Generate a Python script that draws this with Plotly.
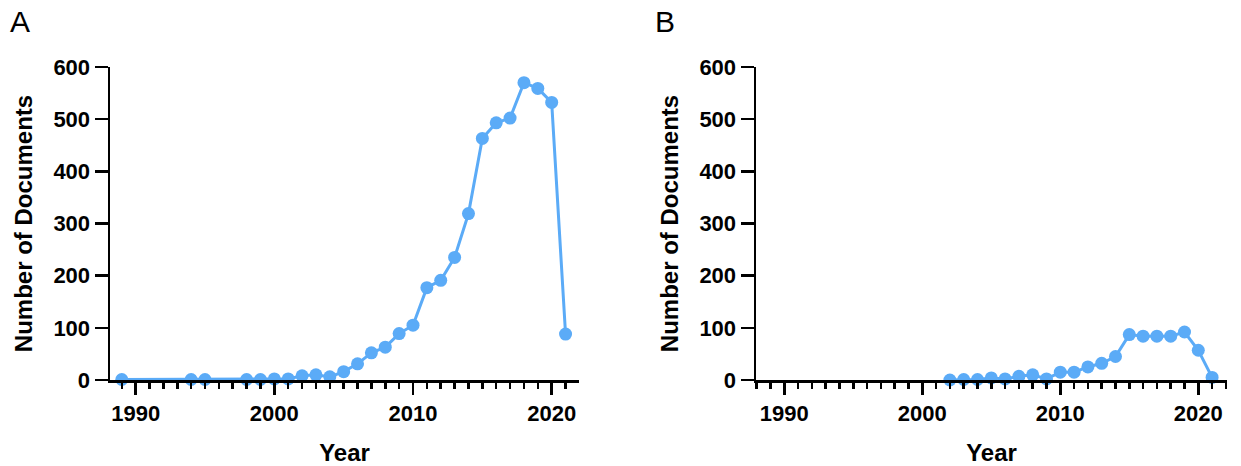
import plotly.graph_objects as go

years_a = [1989, 1994, 1995, 1998, 1999, 2000, 2001, 2002, 2003, 2004, 2005, 2006,
           2007, 2008, 2009, 2010, 2011, 2012, 2013, 2014, 2015, 2016, 2017, 2018,
           2019, 2020, 2021]
docs_a = [1, 1, 1, 1, 1, 2, 2, 8, 10, 6, 16, 31, 52, 63, 89, 105, 177, 191, 235,
          319, 463, 493, 502, 570, 559, 532, 88]

years_b = [2002, 2003, 2004, 2005, 2006, 2007, 2008, 2009, 2010, 2011, 2012, 2013,
           2014, 2015, 2016, 2017, 2018, 2019, 2020, 2021]
docs_b = [0, 1, 1, 4, 2, 7, 10, 2, 15, 15, 25, 32, 45, 87, 84, 84, 84, 92, 57, 5]

x_ticks = [1990, 2000, 2010, 2020]
y_ticks = [0, 100, 200, 300, 400, 500, 600]
panel_labels = ["A", "B"]
x_title = "Year"
y_title = "Number of Documents"

W, H = 1241, 466
color = "#5BABF7"
font_family = "Liberation Sans, Arial, sans-serif"


def px(x):
    return x / W


def py(y):
    return 1 - y / H


fig = go.Figure()
fig.add_trace(go.Scatter(x=years_a, y=docs_a, mode="lines+markers",
                         line=dict(color=color, width=3),
                         marker=dict(color=color, size=13),
                         cliponaxis=False, xaxis="x", yaxis="y", showlegend=False))
fig.add_trace(go.Scatter(x=years_b, y=docs_b, mode="lines+markers",
                         line=dict(color=color, width=3),
                         marker=dict(color=color, size=13),
                         cliponaxis=False, xaxis="x2", yaxis="y2", showlegend=False))


def xaxis(domain, rng, anchor):
    return dict(domain=domain, range=rng, anchor=anchor, automargin=False,
                tickvals=x_ticks, ticktext=[str(v) for v in x_ticks],
                ticks="outside", ticklen=12, tickwidth=2.5, tickcolor="black",
                showline=True, linewidth=2.5, linecolor="black",
                showgrid=False, zeroline=False,
                minor=dict(dtick=1, tick0=1988, ticks="outside", ticklen=6,
                           tickwidth=2.5, tickcolor="black", showgrid=False),
                tickfont=dict(family=font_family, size=22, color="black", weight="bold"),
                title=dict(text=x_title, standoff=20,
                           font=dict(family=font_family, size=24, color="black", weight="bold")),
                fixedrange=True)


def yaxis(domain, anchor):
    return dict(domain=domain, range=[0, 600], anchor=anchor, automargin=False,
                tickvals=y_ticks, ticktext=[str(v) for v in y_ticks],
                ticks="outside", ticklen=13, tickwidth=2.5, tickcolor="black",
                showline=True, linewidth=2.5, linecolor="black",
                showgrid=False, zeroline=False,
                tickfont=dict(family=font_family, size=22, color="black", weight="bold"),
                title=dict(text=y_title, standoff=14,
                           font=dict(family=font_family, size=24, color="black", weight="bold")),
                fixedrange=True)


fig.update_layout(
    width=W, height=H,
    margin=dict(l=0, r=0, t=0, b=0, autoexpand=False),
    paper_bgcolor="white", plot_bgcolor="white",
    hovermode=False,
    xaxis=xaxis([px(110), px(579)], [1988.15, 2021.97], "y"),
    yaxis=yaxis([py(380), py(67)], "x"),
    xaxis2=xaxis([px(756), px(1227)], [1987.95, 2022.08], "y2"),
    yaxis2=yaxis([py(380), py(67)], "x2"),
    annotations=[
        dict(text=panel_labels[0], x=px(20), y=py(22), xref="paper", yref="paper",
             showarrow=False, xanchor="center", yanchor="middle",
             font=dict(family=font_family, size=30, color="black")),
        dict(text=panel_labels[1], x=px(665), y=py(22), xref="paper", yref="paper",
             showarrow=False, xanchor="center", yanchor="middle",
             font=dict(family=font_family, size=30, color="black")),
    ],
)

fig.write_html("out.html",
               config={"displayModeBar": False, "staticPlot": True},
               post_script="document.body.style.margin='0';document.body.style.overflow='hidden';")
